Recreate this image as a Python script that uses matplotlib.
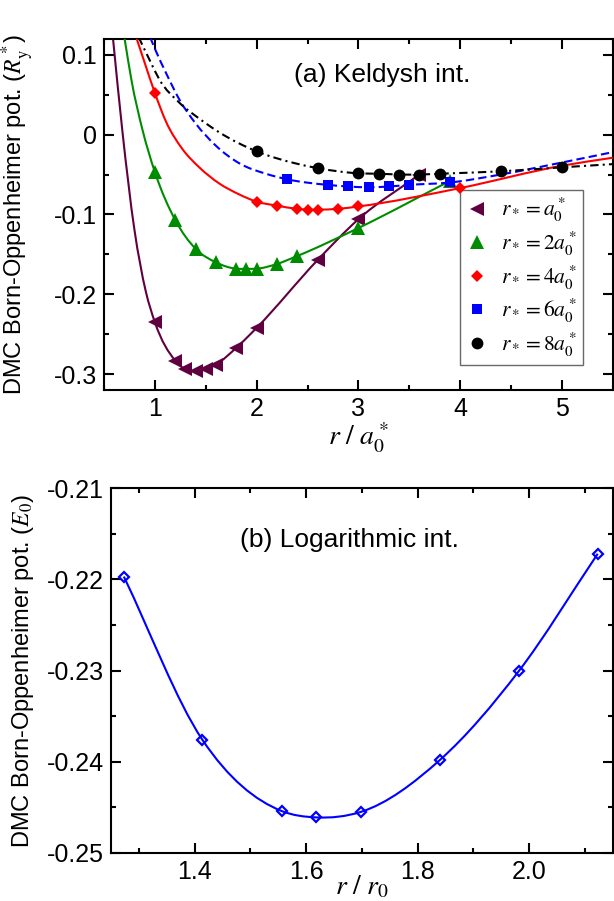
import numpy as np
import matplotlib

matplotlib.use("Agg")

import matplotlib.pyplot as plt
from matplotlib.path import Path
from matplotlib.patches import PathPatch
from matplotlib.ticker import MultipleLocator, FuncFormatter


# (a) Keldysh interaction: DMC points, r in units of a0*, energy in Ry*
r1_r = [1.0, 1.2, 1.3, 1.4, 1.5, 1.6, 1.8, 2.0, 2.6, 3.0, 3.6]
r1_e = [-0.235, -0.283, -0.294, -0.296, -0.294, -0.288, -0.267, -0.242, -0.157, -0.106, -0.050]
r2_r = [1.0, 1.2, 1.4, 1.6, 1.8, 1.9, 2.0, 2.2, 2.4, 3.0, 3.9]
r2_e = [-0.047, -0.107, -0.143, -0.160, -0.168, -0.168, -0.168, -0.162, -0.152, -0.117, -0.058]
r4_r = [1.0, 2.0, 2.2, 2.4, 2.5, 2.6, 2.8, 3.0, 4.0]
r4_e = [0.052, -0.084, -0.089, -0.093, -0.094, -0.094, -0.093, -0.090, -0.067]
r6_r = [2.3, 2.7, 2.9, 3.1, 3.3, 3.5, 3.9]
r6_e = [-0.056, -0.063, -0.065, -0.066, -0.065, -0.063, -0.060]
r8_r = [2.0, 2.6, 3.0, 3.2, 3.4, 3.6, 3.8, 4.4, 5.0]
r8_e = [-0.021, -0.042, -0.0485, -0.049, -0.050, -0.050, -0.049, -0.046, -0.041]

r1_fit_r = [0.587, 0.68, 0.80, 0.91]
r1_fit_e = [0.122, 0.005, -0.120, -0.196]
r2_fit_r = [0.70, 0.77, 0.88]
r2_fit_e = [0.122, 0.068, 0.005]
r4_fit_r = [0.816, 0.897, 1.11, 1.27, 1.436, 1.63, 1.83, 5.0, 5.5]
r4_fit_e = [0.122, 0.091, 0.016, -0.018, -0.041, -0.061, -0.075, -0.039, -0.029]
r6_fit_r = [0.953, 1.012, 1.11, 1.24, 1.40, 1.60, 1.83, 2.09, 4.4, 5.0, 5.5]
r6_fit_e = [0.122, 0.104, 0.077, 0.044, 0.014, -0.014, -0.036, -0.049, -0.050, -0.035, -0.022]
r8_fit_r = [0.84, 0.946, 1.044, 1.24, 1.436, 1.63, 2.38, 5.5]
r8_fit_e = [0.122, 0.094, 0.069, 0.040, 0.020, 0.003, -0.036, -0.037]

legend_labels = [r"$r_* = a_0^*$", r"$r_* = 2a_0^*$", r"$r_* = 4a_0^*$",
                 r"$r_* = 6a_0^*$", r"$r_* = 8a_0^*$"]

# (b) logarithmic interaction, r in units of r0, energy in E0
log_r = [1.273, 1.414, 1.556, 1.618, 1.698, 1.840, 1.981, 2.123]
log_e = [-0.2197, -0.2376, -0.2454, -0.2461, -0.2455, -0.2398, -0.2301, -0.2172]


def smooth_path(xs, ys):
    # cubic Hermite through the points, handed to matplotlib as Bezier segments
    order = np.argsort(xs)
    x = np.asarray(xs, float)[order]
    y = np.asarray(ys, float)[order]
    h = np.diff(x)
    d = np.diff(y) / h
    m = np.empty_like(x)
    m[0], m[-1] = d[0], d[-1]
    m[1:-1] = (d[:-1] * h[1:] + d[1:] * h[:-1]) / (h[:-1] + h[1:])
    verts = [(x[0], y[0])]
    codes = [Path.MOVETO]
    for i in range(len(h)):
        verts += [(x[i] + h[i] / 3, y[i] + m[i] * h[i] / 3),
                  (x[i + 1] - h[i] / 3, y[i + 1] - m[i + 1] * h[i] / 3),
                  (x[i + 1], y[i + 1])]
        codes += [Path.CURVE4] * 3
    return Path(verts, codes)


def style_axes(ax):
    ax.tick_params(which="both", direction="in", top=True, right=True,
                   labelsize=18, width=1.5, pad=5)
    ax.tick_params(which="major", length=7)
    ax.tick_params(which="minor", length=3.5)
    for spine in ax.spines.values():
        spine.set_linewidth(1.5)


plt.rcParams["font.family"] = ["Liberation Sans", "DejaVu Sans"]
plt.rcParams["mathtext.fontset"] = "stix"
plt.rcParams["axes.unicode_minus"] = False

fig = plt.figure(figsize=(6.14, 9.01), dpi=100)
ax1 = fig.add_axes([0.1694, 0.567, 0.8286, 0.390])
ax2 = fig.add_axes([0.1808, 0.0533, 0.8172, 0.4050])

series = [
    (r1_r, r1_e, r1_fit_r, r1_fit_e, "#600040", "<", 9.5, "-"),
    (r2_r, r2_e, r2_fit_r, r2_fit_e, "#008c00", "^", 9.5, "-"),
    (r4_r, r4_e, r4_fit_r, r4_fit_e, "#ff0000", "D", 6.5, "-"),
    (r6_r, r6_e, r6_fit_r, r6_fit_e, "#0000ff", "s", 7.5, (0, (4, 2))),
    (r8_r, r8_e, r8_fit_r, r8_fit_e, "#000000", "o", 8.5, (0, (4, 2, 1, 2))),
]

for k, (rr, ee, fr, fe, color, marker, ms, ls) in enumerate(series):
    path = smooth_path(list(rr) + list(fr), list(ee) + list(fe))
    ax1.add_patch(PathPatch(path, facecolor="none", edgecolor=color,
                            linewidth=1.5, linestyle=ls, zorder=2 + 2 * k))
    ax1.plot(rr, ee, linestyle="none", marker=marker, markersize=ms,
             color=color, markeredgewidth=0, label=legend_labels[k],
             zorder=3 + 2 * k)

ax1.set_xlim(0.5, 5.5)
ax1.set_ylim(-0.32, 0.12)
ax1.xaxis.set_major_locator(MultipleLocator(1))
ax1.xaxis.set_minor_locator(MultipleLocator(0.5))
ax1.yaxis.set_major_locator(MultipleLocator(0.1))
ax1.yaxis.set_minor_locator(MultipleLocator(0.05))
ax1.xaxis.set_major_formatter(FuncFormatter(lambda v, p: f"{v:g}"))
ax1.yaxis.set_major_formatter(FuncFormatter(lambda v, p: f"{round(v, 2):g}"))
style_axes(ax1)
ax1.set_xlabel(r"$r\ /\ a_0^*$", fontsize=20)
ax1.xaxis.set_label_coords(0.5, -0.088)
ax1.set_ylabel(r"DMC Born-Oppenheimer pot. ($R_\mathrm{y}^*$)", fontsize=17)
ax1.yaxis.set_label_coords(-0.133, 0.5)
ax1.text(0.546, 0.897, "(a) Keldysh int.", transform=ax1.transAxes,
         ha="center", va="center", fontsize=19)

leg = ax1.legend(loc="lower right", bbox_to_anchor=(0.941, 0.071),
                 borderaxespad=0, fontsize=15.5, fancybox=False, frameon=True,
                 handletextpad=0.6, labelspacing=0.25, borderpad=0.3,
                 handlelength=1.0)
leg.get_frame().set_edgecolor("#444444")
leg.get_frame().set_linewidth(1.0)

ax2.add_patch(PathPatch(smooth_path(log_r, log_e), facecolor="none",
                        edgecolor="#0000ff", linewidth=1.5, zorder=2))
ax2.plot(log_r, log_e, linestyle="none", marker="D", markersize=5,
         markerfacecolor="none", markeredgecolor="#0000ff",
         markeredgewidth=1.6, zorder=3)
ax2.set_xlim(1.25, 2.15)
ax2.set_ylim(-0.25, -0.21)
ax2.xaxis.set_major_locator(MultipleLocator(0.2))
ax2.xaxis.set_minor_locator(MultipleLocator(0.1))
ax2.yaxis.set_major_locator(MultipleLocator(0.01))
ax2.yaxis.set_minor_locator(MultipleLocator(0.005))
ax2.xaxis.set_major_formatter(FuncFormatter(lambda v, p: f"{v:.1f}"))
ax2.yaxis.set_major_formatter(FuncFormatter(lambda v, p: f"{v:.2f}"))
style_axes(ax2)
ax2.set_xlabel(r"$r\ /\ r_0$", fontsize=20)
ax2.xaxis.set_label_coords(0.5, -0.058)
ax2.set_ylabel(r"DMC Born-Oppenheimer pot. ($E_0$)", fontsize=17)
ax2.yaxis.set_label_coords(-0.149, 0.5)
ax2.text(0.475, 0.857, "(b) Logarithmic int.", transform=ax2.transAxes,
         ha="center", va="center", fontsize=19)

fig.savefig("out.png", dpi=100, facecolor="white")
plt.close(fig)
